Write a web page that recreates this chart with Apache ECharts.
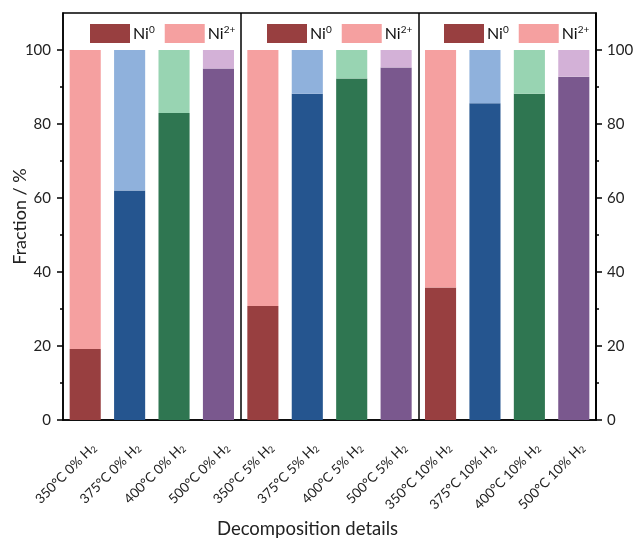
<!DOCTYPE html>
<html><head><meta charset="utf-8">
<script src="https://cdn.jsdelivr.net/npm/echarts@6/dist/echarts.min.js"></script>
<style>html,body{margin:0;padding:0;background:#fff}#c{width:635px;height:540px}</style>
</head><body><div id="c"></div>
<script>
const categories = ['350°C 0% H2','375°C 0% H2','400°C 0% H2','500°C 0% H2',
  '350°C 5% H2','375°C 5% H2','400°C 5% H2','500°C 5% H2',
  '350°C 10% H2','375°C 10% H2','400°C 10% H2','500°C 10% H2'];
const ni0 = [19.2, 62.0, 83.0, 95.0, 30.8, 88.2, 92.3, 95.3, 35.8, 85.6, 88.2, 92.8];
const ni2 = [80.8, 38.0, 17.0, 5.0, 69.2, 11.8, 7.7, 4.7, 64.2, 14.4, 11.8, 7.2];
const yTicks = [0, 20, 40, 60, 80, 100];
const yMinorTicks = [10, 30, 50, 70, 90];
const darkColors = ['#983f40', '#25558f', '#2f7651', '#7a588e'];
const lightColors = ['#f5a0a0', '#8fb1dc', '#98d4b2', '#d3b1d7'];
const FONT = 'Lato';

const chart = echarts.init(document.getElementById('c'), null, {renderer: 'canvas'});
const axisLineStyle = {color: '#000', width: 1.5};
const gridRect = {left: 63, right: 39, top: 13, bottom: 120, outerBoundsMode: 'none', containLabel: false};

function legendAt(x) {
  return {
    left: x, top: 24, padding: 0, icon: 'rect', itemWidth: 40, itemHeight: 19, itemGap: 10,
    data: ['Ni0', 'Ni2+'], selectedMode: false,
    formatter: n => n === 'Ni0' ? 'Ni{sup|0}' : 'Ni{sup|2+}',
    textStyle: {fontFamily: FONT, fontSize: 16, color: '#111', padding: [0, 0, 0, -2],
      rich: {sup: {fontFamily: FONT, fontSize: 10, color: '#111', verticalAlign: 'top', padding: [0, 0, 8, 0]}}}
  };
}

const option = {
  animation: false,
  backgroundColor: '#fff',
  textStyle: {fontFamily: FONT},
  legend: [legendAt(90), legendAt(267), legendAt(444)],
  grid: [
    Object.assign({show: true, borderColor: '#000', borderWidth: 1.5, backgroundColor: 'transparent'}, gridRect),
    Object.assign({show: false}, gridRect)
  ],
  xAxis: [
    {
      type: 'category', gridIndex: 0, data: categories, position: 'bottom',
      axisLine: {lineStyle: axisLineStyle},
      axisTick: {alignWithLabel: true, length: 6, lineStyle: axisLineStyle},
      axisLabel: {
        rotate: 45, interval: 0, margin: 34, fontFamily: FONT, fontSize: 13.5, color: '#222',
        padding: [0, -12, 0, 0],
        formatter: v => v.replace('H2', 'H{sub|2}'),
        rich: {sub: {fontFamily: FONT, fontSize: 9, color: '#222', verticalAlign: 'bottom', padding: [6, 0, 0, 0]}}
      },
      splitLine: {show: true, interval: i => i === 4 || i === 8, lineStyle: axisLineStyle},
      name: 'Decomposition details', nameLocation: 'middle', nameGap: 100, nameMoveOverlap: false,
      nameTextStyle: {fontFamily: FONT, fontSize: 18.5, color: '#222', padding: [0, 44, 0, 0]}
    },
    {
      type: 'category', gridIndex: 1, data: categories, position: 'bottom',
      axisLine: {show: false},
      axisTick: {length: 3, lineStyle: axisLineStyle},
      axisLabel: {show: false}, splitLine: {show: false}
    }
  ],
  yAxis: [
    {
      type: 'value', gridIndex: 0, min: 0, max: 110, position: 'left',
      axisLine: {show: true, lineStyle: axisLineStyle},
      axisTick: {show: true, length: 6, lineStyle: axisLineStyle, customValues: yTicks},
      axisLabel: {customValues: yTicks, fontFamily: FONT, fontSize: 15, color: '#222', margin: 12},
      splitLine: {show: false},
      name: 'Fraction / %', nameLocation: 'middle', nameGap: 34, nameRotate: 90, nameMoveOverlap: false,
      nameTextStyle: {fontFamily: FONT, fontSize: 18, color: '#222'}
    },
    {
      type: 'value', gridIndex: 0, min: 0, max: 110, position: 'right',
      axisLine: {show: true, lineStyle: axisLineStyle},
      axisTick: {show: true, length: 6, lineStyle: axisLineStyle, customValues: yTicks},
      axisLabel: {customValues: yTicks, fontFamily: FONT, fontSize: 15, color: '#222', margin: 11},
      splitLine: {show: false}
    },
    {
      type: 'value', gridIndex: 1, min: 0, max: 110, position: 'left',
      axisLine: {show: false},
      axisTick: {show: true, length: 3, lineStyle: axisLineStyle, customValues: yMinorTicks},
      axisLabel: {show: false}, splitLine: {show: false}
    },
    {
      type: 'value', gridIndex: 1, min: 0, max: 110, position: 'right',
      axisLine: {show: false},
      axisTick: {show: true, length: 3, lineStyle: axisLineStyle, customValues: yMinorTicks},
      axisLabel: {show: false}, splitLine: {show: false}
    }
  ],
  series: [
    {
      name: 'Ni0', type: 'bar', stack: 'ni', xAxisIndex: 0, yAxisIndex: 0, barWidth: '70%',
      itemStyle: {color: darkColors[0]},
      emphasis: {disabled: true},
      data: ni0.map((v, i) => ({value: v, itemStyle: {color: darkColors[i % 4]}}))
    },
    {
      name: 'Ni2+', type: 'bar', stack: 'ni', xAxisIndex: 0, yAxisIndex: 0, barWidth: '70%',
      itemStyle: {color: lightColors[0]},
      emphasis: {disabled: true},
      data: ni2.map((v, i) => ({value: v, itemStyle: {color: lightColors[i % 4]}}))
    }
  ]
};
chart.setOption(option);
</script>
</body></html>
